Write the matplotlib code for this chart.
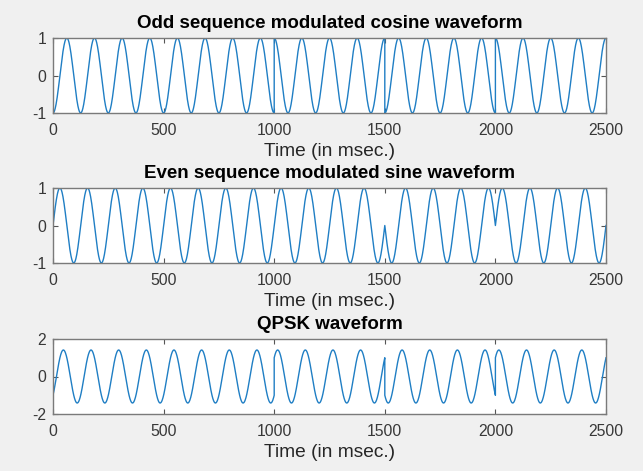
import numpy as np
import matplotlib
matplotlib.use("Agg")
import matplotlib.pyplot as plt

# bit values per 500 ms symbol
odd_bits = [-1, -1, 1, -1, 1]     # cosine branch
even_bits = [1, 1, 1, -1, 1]      # sine branch
symbol_ms = 500
carrier_period_ms = 125

titles = ["Odd sequence modulated cosine waveform",
          "Even sequence modulated sine waveform",
          "QPSK waveform"]
xticks = [0, 500, 1000, 1500, 2000, 2500]
yticks = [[-1, 0, 1], [-1, 0, 1], [-2, 0, 2]]
ylims = [(-1, 1), (-1, 1), (-2, 2)]

plt.rcParams['font.family'] = ['Liberation Sans', 'DejaVu Sans']
plt.rcParams['axes.unicode_minus'] = False


def modulate(bits, fn):
    # each symbol segment keeps its endpoints so phase flips draw as vertical jumps
    ts, ys = [], []
    for i, b in enumerate(bits):
        t = np.linspace(i * symbol_ms, (i + 1) * symbol_ms, 401)
        ts.append(t)
        ys.append(b * fn(2 * np.pi * t / carrier_period_ms))
    return np.concatenate(ts), np.concatenate(ys)


t, odd_wave = modulate(odd_bits, np.cos)
_, even_wave = modulate(even_bits, np.sin)
qpsk_wave = odd_wave + even_wave
waves = [odd_wave, even_wave, qpsk_wave]

fig = plt.figure(figsize=(6.43, 4.71), dpi=100, facecolor='#f0f0f0')
W, H = 643, 471
boxes = [(53, 38, 606, 113), (53, 188, 606, 263), (53, 339, 606, 414)]

for k, (x0, y0, x1, y1) in enumerate(boxes):
    ax = fig.add_axes([x0 / W, 1 - y1 / H, (x1 - x0) / W, (y1 - y0) / H])
    ax.plot(t, waves[k], color='#1f7ec4', lw=1.0)
    ax.set_xlim(0, 2500)
    ax.set_ylim(*ylims[k])
    ax.set_xticks(xticks)
    ax.set_yticks(yticks[k])
    ax.tick_params(direction='in', top=True, right=True, length=3.5,
                   width=0.8, color='#555555', labelsize=11.3,
                   labelcolor='#383838', pad=5)
    ax.tick_params(axis='x', pad=7)
    for s in ax.spines.values():
        s.set_color('#7a7a7a')
        s.set_linewidth(1.0)
    ax.set_title(titles[k], fontsize=13.5, fontweight='bold', pad=7)
    ax.set_xlabel('Time (in msec.)', fontsize=13.8, color='#262626', labelpad=4)

fig.savefig('out.png', dpi=100, facecolor=fig.get_facecolor())
